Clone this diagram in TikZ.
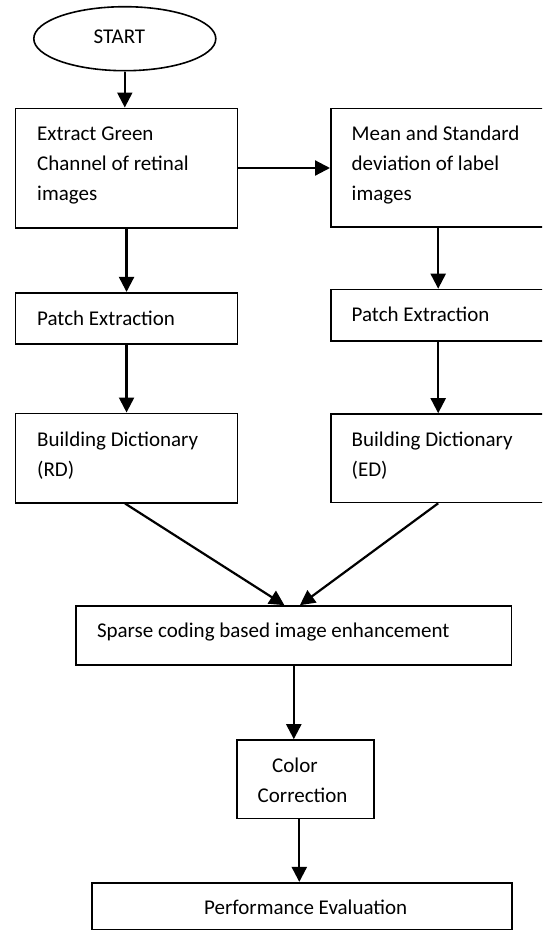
\documentclass[tikz,border=0pt]{standalone}
\usepackage{fontspec}
\setmainfont{Carlito}
\usetikzlibrary{arrows.meta,calc,shapes.geometric}
\begin{document}
\begin{tikzpicture}[x=1pt,y=-1pt,
  boxst/.style={draw=black, line width=1.6pt, rectangle, inner sep=0pt},
  txt/.style={anchor=base west, inner sep=0pt, font=\fontsize{21}{30}\selectfont},
  arr/.style={draw=black, line width=2.2pt, -{Triangle[length=15pt,width=15pt]}}]
\useasboundingbox (0,0) rectangle (542,930);
\clip (0,0) rectangle (542,930);
\fill[white] (0,0) rectangle (542,930);

% shapes
\node[draw=black, line width=1.6pt, ellipse, minimum width=182pt, minimum height=64pt, inner sep=0pt] (start) at (124.8,38.7) {};
\node[boxst, minimum width=221.9pt, minimum height=119.4pt] (b1) at (126.55,168) {};
\node[boxst, minimum width=260pt, minimum height=118.7pt] (b2) at (460.8,167.65) {};
\node[boxst, minimum width=221.9pt, minimum height=51.3pt] (p1) at (126.55,318.35) {};
\node[boxst, minimum width=260pt, minimum height=51.5pt] (p2) at (460.8,315.25) {};
\node[boxst, minimum width=221.9pt, minimum height=89.4pt] (d1) at (126.55,458) {};
\node[boxst, minimum width=260pt, minimum height=88.5pt] (d2) at (460.8,458.25) {};
\node[boxst, minimum width=435.6pt, minimum height=59pt] (sp) at (293.8,635.5) {};
\node[boxst, minimum width=137.2pt, minimum height=78.3pt] (co) at (305.4,779.15) {};
\node[boxst, minimum width=420pt, minimum height=46.6pt] (pf) at (301.7,906) {};

% texts
\node[txt] (startt) at (93.3,43.7) {START};
\node[txt] (b1a) at (37,140) {Extract Green};
\node[txt] (b1b) at (37,170) {Channel of retinal};
\node[txt] (b1c) at (37,200) {images};
\node[txt] (b2a) at (351.5,140) {Mean and Standard};
\node[txt] (b2b) at (351.5,170) {deviation of label};
\node[txt] (b2c) at (351.5,200) {images};
\node[txt] (p1a) at (37,325) {Patch Extraction};
\node[txt] (p2a) at (351.5,321.7) {Patch Extraction};
\node[txt] (d1a) at (37,446.7) {Building Dictionary};
\node[txt] (d1b) at (37,476.5) {(RD)};
\node[txt] (d2a) at (351.5,446) {Building Dictionary};
\node[txt] (d2b) at (351.5,476) {(ED)};
\node[txt] (spa) at (96.8,637.3) {Sparse coding based image enhancement};
\node[txt] (coa) at (272,772.7) {Color};
\node[txt] (cob) at (257.5,802.7) {Correction};
\node[txt] (pfa) at (204,914) {Performance Evaluation};

% connectors
\coordinate (b2s) at ($(b2.south west)+(108.2,0)$);
\coordinate (p2s) at ($(p2.south west)+(108.2,0)$);
\coordinate (d2s) at ($(d2.south west)+(108.2,0)$);
\draw[arr] (start.south) -- (start.south |- b1.north);
\draw[arr] (b1.east) -- (b1.east -| b2.west);
\draw[arr] (b1.south) -- (p1.north);
\draw[arr] (p1.south) -- (d1.north);
\draw[arr] (b2s) -- (b2s |- p2.north);
\draw[arr] (p2s) -- (p2s |- d2.north);
\coordinate (d1s) at ($(d1.south)+(-1.5,0)$);
\coordinate (spl) at ($(sp.north west)+(209.2,0)$);
\coordinate (spr) at ($(sp.north west)+(224.7,0)$);
\draw[arr] (d1s) -- (spl);
\draw[arr] (d2s) -- (spr);
\draw[arr] (sp.south) -- (sp.south |- co.north);
\coordinate (cof) at ($(co.south)+(-6.1,0)$);
\draw[arr] (cof) -- (cof |- pf.north);
\end{tikzpicture}
\end{document}
